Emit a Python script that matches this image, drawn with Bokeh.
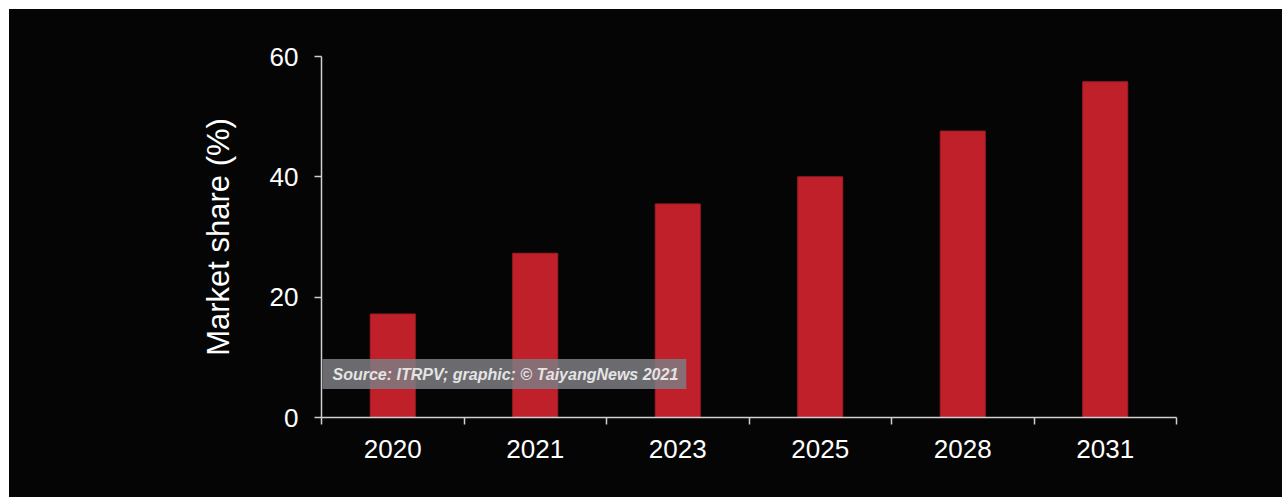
from bokeh.plotting import figure
from bokeh.models import FixedTicker, Range1d, BoxAnnotation, Label, Spacer
from bokeh.layouts import column, row
from bokeh.embed import file_html
from bokeh.resources import INLINE

years = ["2020", "2021", "2023", "2025", "2028", "2031"]
share = [17.2, 27.3, 35.5, 40.0, 47.6, 55.8]
y_ticks = [0, 20, 40, 60]

FONT = "Liberation Sans"
BG = "#050505"

xpos = [i + 0.5 for i in range(len(years))]

p = figure(width=1273, height=488, output_backend="svg", toolbar_location=None,
           x_range=Range1d(0, len(years)), y_range=Range1d(0, 60),
           min_border_left=312, min_border_right=106, min_border_top=47, min_border_bottom=80)
p.styles = {"background-color": BG}
p.background_fill_color = BG
p.border_fill_color = BG
p.outline_line_color = None
p.xgrid.visible = False
p.ygrid.visible = False

p.vbar(x=xpos, top=share, width=0.316, fill_color="#C0202A", line_color="#a31c24", line_width=1)

axis_col = "#d0d0d0"
# x axis
xa = p.xaxis[0]
xa.ticker = FixedTicker(ticks=xpos, minor_ticks=list(range(len(years) + 1)))
xa.major_label_overrides = {x: y for x, y in zip(xpos, years)}
xa.major_tick_out = 0
xa.major_tick_in = 0
xa.minor_tick_out = 7
xa.minor_tick_in = 0
xa.minor_tick_line_color = axis_col
xa.minor_tick_line_width = 1.5
xa.axis_line_color = axis_col
xa.axis_line_width = 1.5
xa.major_label_text_font = FONT
xa.major_label_text_font_size = "26px"
xa.major_label_text_color = "white"
xa.major_label_standoff = 15

# y axis
ya = p.yaxis[0]
ya.ticker = FixedTicker(ticks=y_ticks, minor_ticks=[])
ya.major_tick_out = 7
ya.major_tick_in = 0
ya.major_tick_line_color = axis_col
ya.major_tick_line_width = 1.5
ya.axis_line_color = axis_col
ya.axis_line_width = 1.5
ya.major_label_text_font = FONT
ya.major_label_text_font_size = "26px"
ya.major_label_text_color = "white"
ya.major_label_standoff = 16
ya.axis_label = "Market share (%)"
ya.axis_label_text_font = FONT
ya.axis_label_text_font_size = "31px"
ya.axis_label_text_font_style = "normal"
ya.axis_label_text_color = "white"
ya.axis_label_standoff = 31

# source box
p.add_layout(BoxAnnotation(left=0.007, right=2.56, bottom=4.73, top=9.72,
                           fill_color="#7c7d82", fill_alpha=0.85, line_color=None))
p.add_layout(Label(x=0.077, y=7.2, text="Source: ITRPV; graphic: \u00a9 TaiyangNews 2021",
                   text_font=FONT, text_font_size="16px", text_font_style="bold italic",
                   text_color="#e4e4e4", text_baseline="middle", text_align="left"))

layout = column(Spacer(height=9), row(Spacer(width=9), p))
open("out.html", "w").write(file_html(layout, INLINE))
